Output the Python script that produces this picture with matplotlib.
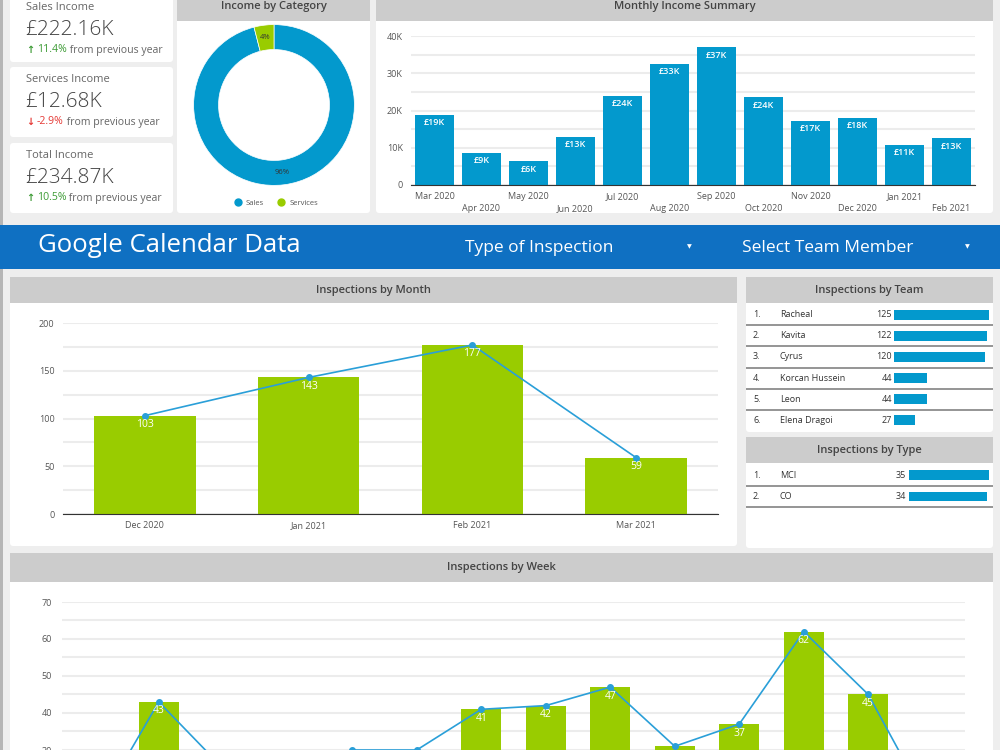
"""Income + Google Calendar inspections dashboard, redrawn with matplotlib."""
import matplotlib
matplotlib.use("Agg")
import matplotlib.pyplot as plt
from matplotlib import transforms
from matplotlib.lines import Line2D
from matplotlib.patches import FancyBboxPatch, Rectangle
from matplotlib.ticker import FuncFormatter

plt.rcParams["font.family"] = ["Open Sans", "DejaVu Sans"]

# ---- data -------------------------------------------------------------------
kpi_names = ["Sales Income", "Services Income", "Total Income"]
kpi_values = ["£222.16K", "£12.68K", "£234.87K"]
kpi_change = [11.4, -2.9, 10.5]

category_names = ["Sales", "Services"]
category_share = [96, 4]

income_months = ["Mar 2020", "Apr 2020", "May 2020", "Jun 2020", "Jul 2020", "Aug 2020",
                 "Sep 2020", "Oct 2020", "Nov 2020", "Dec 2020", "Jan 2021", "Feb 2021"]
income_k = [18.8, 8.6, 6.4, 12.9, 23.9, 32.6, 37.0, 23.6, 17.2, 18.0, 10.8, 12.6]

inspection_months = ["Dec 2020", "Jan 2021", "Feb 2021", "Mar 2021"]
inspections_month = [103, 143, 177, 59]

team_members = ["Racheal", "Kavita", "Cyrus", "Korcan Hussein", "Leon", "Elena Dragoi"]
team_counts = [125, 122, 120, 44, 44, 27]

inspection_types = ["MCI", "CO"]
type_counts = [35, 34]

weeks = list(range(1, 15))
week_counts = [13, 43, 25, 19, 30, 30, 41, 42, 47, 31, 37, 62, 45, 13]

# ---- style ------------------------------------------------------------------
BLUE = "#0399cd"
GREEN = "#99cc00"
LINE = "#2a9fd8"
HEADER = "#cccccc"
BG = "#eeeeee"
BANNER = "#0f70c2"
TXT = "#444444"
GRID = "#ececec"

W, H = 1000, 750
fig = plt.figure(figsize=(W / 100, H / 100), dpi=100, facecolor=BG)

bg = fig.add_axes([0, 0, 1, 1], zorder=0)
bg.set_xlim(0, W)
bg.set_ylim(H, 0)
bg.axis("off")


def px_axes(x, y, w, h):
    ax = fig.add_axes([x / W, 1 - (y + h) / H, w / W, h / H], zorder=2)
    ax.set_facecolor("none")
    return ax


def panel(x, y, w, h, title=None, head_h=26, title_y=None):
    bg.add_patch(FancyBboxPatch((x, y), w, h, boxstyle="round,pad=0,rounding_size=3",
                                fc="white", ec="none"))
    if title:
        bg.add_patch(Rectangle((x, y), w, head_h, fc=HEADER, ec="none"))
        ty = title_y if title_y is not None else y + head_h / 2
        bg.text(x + w / 2, ty, title, ha="center", va="center", fontsize=8,
                color=TXT, fontweight="semibold")


def style_chart(ax):
    for s in ("top", "right", "left"):
        ax.spines[s].set_visible(False)
    ax.spines["bottom"].set_color("#333333")
    ax.tick_params(which="both", length=0, labelsize=6.5, colors="#555555")
    ax.grid(axis="y", which="both", color=GRID, lw=1.5)
    ax.set_axisbelow(True)


# left frame strip
bg.add_patch(Rectangle((0, 0), 3, H, fc="#b5b5b5", ec="none"))

# ---- KPI cards -------------------------------------------------------------
card_tops = [-5, 67, 143]
card_h = [67, 70, 70]
for top, hh, name, val, chg in zip(card_tops, card_h, kpi_names, kpi_values, kpi_change):
    panel(10, top, 163, hh)
    y0 = top if top >= 0 else 0
    shift = 5 if top < 0 else 0
    bg.text(26, y0 + 13 - shift, name, fontsize=8, color="#666666", va="center")
    bg.text(25, y0 + 35 - shift, val, fontsize=15, color=TXT, va="center",
            fontweight="light")
    col = "#3d9b35" if chg > 0 else "#e53935"
    yy = y0 + 55 - shift
    bg.text(30, yy, "↑" if chg > 0 else "↓", fontsize=7, color=col, va="center",
            ha="center", fontweight="bold", family=["DejaVu Sans"])
    pt = bg.text(37, yy, f"{chg}%", fontsize=7.6, color=col, va="center")
    bg.annotate(" from previous year", xy=(1, 0.5), xycoords=pt, va="center",
                fontsize=7.6, color="#666666")

# ---- Income by category donut ---------------------------------------------
panel(177, -5, 193, 218, "Income by Category", head_h=26, title_y=6)
dax = px_axes(192, 23, 164, 164)
wedges, _, autotexts = dax.pie(category_share, colors=[BLUE, GREEN], startangle=90,
                               counterclock=False, radius=1,
                               wedgeprops=dict(width=0.31, edgecolor="white", lw=0.5),
                               autopct="%d%%", pctdistance=0.85,
                               textprops=dict(fontsize=5.5, color="#333333"))
dax.set_xlim(-1.02, 1.02)
dax.set_ylim(-1.02, 1.02)
dax.set_aspect("equal")
handles = [Line2D([], [], ls="none", marker="o", ms=5, color=c) for c in (BLUE, GREEN)]
dax.legend(handles, category_names, loc="center", bbox_to_anchor=(0.5, -0.1), ncol=2,
           frameon=False, fontsize=5.5, handletextpad=0.1, columnspacing=1.2,
           labelcolor="#555555")

# ---- Monthly income summary -------------------------------------------------
panel(376, -5, 617, 218, "Monthly Income Summary", head_h=26, title_y=6)
iax = px_axes(411, 36, 564, 149)
xi = range(len(income_months))
iax.bar(xi, income_k, width=0.83, color=BLUE)
for i, v in zip(xi, income_k):
    iax.annotate(f"£{round(v)}K", (i, v), xytext=(0, -2.5), textcoords="offset points",
                 ha="center", va="top", color="white", fontsize=6.5, fontweight="semibold")
iax.set_xlim(-0.5, len(income_months) - 0.5)
iax.set_ylim(0, 40)
iax.set_yticks([0, 10, 20, 30, 40])
iax.set_yticks([5, 15, 25, 35], minor=True)
iax.yaxis.set_major_formatter(FuncFormatter(lambda v, _: "0" if v == 0 else f"{v:.0f}K"))
iax.set_xticks(list(xi), [m if i % 2 == 0 else "\n" + m for i, m in enumerate(income_months)],
               linespacing=1.4)
style_chart(iax)
iax.tick_params(axis="x", pad=5)
iax.tick_params(axis="y", pad=6)

# ---- Banner ---------------------------------------------------------------
bg.add_patch(Rectangle((0, 225), W, 44, fc=BANNER, ec="none"))
bg.text(38, 246, "Google Calendar Data", fontsize=18.5, color="white", va="center")
bg.text(465, 248, "Type of Inspection", fontsize=12.5, color="white", va="center")
bg.text(689, 247, "▼", fontsize=4.5, color="white", va="center", ha="center",
        family=["DejaVu Sans"])
bg.text(742, 248, "Select Team Member", fontsize=12.5, color="white", va="center")
bg.text(967, 247, "▼", fontsize=4.5, color="white", va="center", ha="center",
        family=["DejaVu Sans"])

# ---- Inspections by month -------------------------------------------------
panel(10, 277, 727, 269, "Inspections by Month")
max_ = px_axes(63, 323, 655, 191)
xm = list(range(len(inspection_months)))
max_.bar(xm, inspections_month, width=0.62, color=GREEN)
max_.plot(xm, inspections_month, color=LINE, lw=1.2, marker="o", ms=4, clip_on=False)
for i, v in zip(xm, inspections_month):
    max_.annotate(str(v), (i, v), xytext=(0, -2.5), textcoords="offset points",
                  ha="center", va="top", color="white", fontsize=7.5)
max_.set_xlim(-0.5, len(xm) - 0.5)
max_.set_ylim(0, 200)
max_.set_yticks([0, 50, 100, 150, 200])
max_.set_yticks([25, 75, 125, 175], minor=True)
max_.set_xticks(xm, inspection_months)
style_chart(max_)
max_.tick_params(axis="y", pad=6)
max_.tick_params(axis="x", pad=5)

# ---- Inspections by team / type tables ---------------------------------------
panel(746, 277, 247, 155, "Inspections by Team")
tax = px_axes(894, 304, 96, 127)
rows = list(range(len(team_members)))
tax.barh(rows, team_counts, height=0.48, color=BLUE)
tax.set_ylim(len(rows) - 0.5, -0.5)
tax.set_xlim(0, max(team_counts) * 1.01)
tax.axis("off")
tr = transforms.blended_transform_factory(bg.transData, tax.transData)
for i, (name, n) in zip(rows, zip(team_members, team_counts)):
    bg.text(753, i, f"{i + 1}.", transform=tr, fontsize=6.5, color="#333333", va="center")
    bg.text(780, i, name, transform=tr, fontsize=6.5, color="#333333", va="center")
    bg.text(892, i, str(n), transform=tr, fontsize=6.5, color="#333333", va="center", ha="right")
bg.hlines([r + 0.5 for r in rows[:-1]], 746, 993, transform=tr, color="#8c8c8c", lw=1.3)

panel(746, 437, 247, 111, "Inspections by Type")
yax = px_axes(909, 464.5, 81, 42.4)
trows = list(range(len(inspection_types)))
yax.barh(trows, type_counts, height=0.45, color=BLUE)
yax.set_ylim(len(trows) - 0.5, -0.5)
yax.set_xlim(0, max(type_counts) * 1.01)
yax.axis("off")
tr2 = transforms.blended_transform_factory(bg.transData, yax.transData)
for i, (name, n) in zip(trows, zip(inspection_types, type_counts)):
    bg.text(753, i, f"{i + 1}.", transform=tr2, fontsize=6.5, color="#333333", va="center")
    bg.text(780, i, name, transform=tr2, fontsize=6.5, color="#333333", va="center")
    bg.text(906, i, str(n), transform=tr2, fontsize=6.5, color="#333333", va="center", ha="right")
bg.hlines([r + 0.5 for r in trows], 746, 993, transform=tr2, color="#8c8c8c", lw=1.3)

# ---- Inspections by week --------------------------------------------------
# the panel runs past the bottom edge of the page, as in the original screenshot
panel(10, 553, 983, 230, "Inspections by Week", head_h=29)
wax = px_axes(62, 602, 903, 259)
xw = list(range(len(weeks)))
wax.bar(xw, week_counts, width=0.62, color=GREEN)
wax.plot(xw, week_counts, color=LINE, lw=1.2, marker="o", ms=4, clip_on=False)
for i, v in zip(xw, week_counts):
    if v < 33:  # these labels fall below the visible page
        continue
    wax.annotate(str(v), (i, v), xytext=(0, -2.5), textcoords="offset points",
                 ha="center", va="top", color="white", fontsize=7.5)
wax.set_xlim(-0.5, len(xw) - 0.5)
wax.set_ylim(0, 70)
wax.set_yticks(range(30, 71, 10))  # lower ticks sit below the page
wax.set_yticks(range(5, 70, 5), minor=True)
wax.set_xticks([])
style_chart(wax)
wax.tick_params(axis="y", pad=7)

fig.savefig("out.png", dpi=100, facecolor=BG)
